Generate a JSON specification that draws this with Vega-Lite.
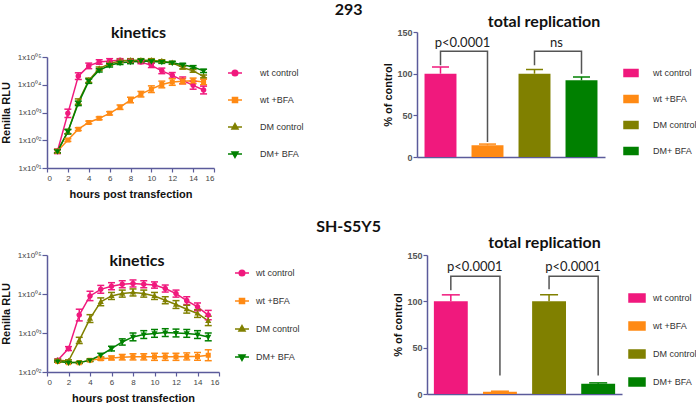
{
  "$schema": "https://vega.github.io/schema/vega-lite/v6.json",
  "padding": {"left": 0, "top": 2, "right": 0, "bottom": 0},
  "background": "white",
  "config": {
    "view": {"stroke": null},
    "font": "Liberation Sans",
    "axis": {"domainColor": "#5b5b9b", "domainWidth": 1.5, "tickColor": "#5b5b9b", "tickWidth": 1.2, "tickSize": 4, "labelFont": "Liberation Sans", "labelFontSize": 8, "labelColor": "#444444", "titleFont": "Liberation Sans", "titleFontSize": 11, "titleFontWeight": "bold", "titleColor": "#111111", "grid": false},
    "legend": {"labelFont": "Liberation Sans", "labelFontSize": 9, "labelColor": "#333333"},
    "title": {"font": "Lato", "fontSize": 16, "fontWeight": "bold", "color": "#111111"}
  },
  "datasets": {
    "kin293": [
      {"t":1,"series":"wt control","v":40,"lo":33,"hi":48},
      {"t":2,"series":"wt control","v":933,"lo":660,"hi":1318},
      {"t":3,"series":"wt control","v":20417,"lo":15490,"hi":26910},
      {"t":4,"series":"wt control","v":47863,"lo":38020,"hi":60260},
      {"t":5,"series":"wt control","v":66069,"lo":54960,"hi":79430},
      {"t":6,"series":"wt control","v":72444,"lo":60260,"hi":87100},
      {"t":7,"series":"wt control","v":75858,"lo":66070,"hi":87100},
      {"t":8,"series":"wt control","v":72444,"lo":63100,"hi":83180},
      {"t":9,"series":"wt control","v":66069,"lo":57540,"hi":75860},
      {"t":10,"series":"wt control","v":50119,"lo":41690,"hi":60260},
      {"t":11,"series":"wt control","v":31623,"lo":25120,"hi":39810},
      {"t":12,"series":"wt control","v":21878,"lo":17380,"hi":27540},
      {"t":13,"series":"wt control","v":14454,"lo":10960,"hi":19050},
      {"t":14,"series":"wt control","v":9550,"lo":6920,"hi":13180},
      {"t":15,"series":"wt control","v":6457,"lo":4680,"hi":8910},
      {"t":1,"series":"wt +BFA","v":40,"lo":35,"hi":46},
      {"t":2,"series":"wt +BFA","v":102,"lo":91,"hi":114},
      {"t":3,"series":"wt +BFA","v":251,"lo":224,"hi":282},
      {"t":4,"series":"wt +BFA","v":437,"lo":390,"hi":490},
      {"t":5,"series":"wt +BFA","v":617,"lo":550,"hi":692},
      {"t":6,"series":"wt +BFA","v":933,"lo":813,"hi":1071},
      {"t":7,"series":"wt +BFA","v":1549,"lo":1289,"hi":1862},
      {"t":8,"series":"wt +BFA","v":2818,"lo":2239,"hi":3548},
      {"t":9,"series":"wt +BFA","v":4571,"lo":3631,"hi":5754},
      {"t":10,"series":"wt +BFA","v":6918,"lo":5248,"hi":9120},
      {"t":11,"series":"wt +BFA","v":10233,"lo":7762,"hi":13490},
      {"t":12,"series":"wt +BFA","v":12589,"lo":9550,"hi":16600},
      {"t":13,"series":"wt +BFA","v":13490,"lo":10720,"hi":16980},
      {"t":14,"series":"wt +BFA","v":13804,"lo":10960,"hi":17380},
      {"t":15,"series":"wt +BFA","v":12589,"lo":10000,"hi":15850},
      {"t":1,"series":"DM control","v":40,"lo":35,"hi":46},
      {"t":2,"series":"DM control","v":204,"lo":170,"hi":245},
      {"t":3,"series":"DM control","v":2455,"lo":1950,"hi":3090},
      {"t":4,"series":"DM control","v":14454,"lo":12020,"hi":17380},
      {"t":5,"series":"DM control","v":38019,"lo":33110,"hi":43650},
      {"t":6,"series":"DM control","v":57544,"lo":50120,"hi":66070},
      {"t":7,"series":"DM control","v":72444,"lo":63100,"hi":83180},
      {"t":8,"series":"DM control","v":75858,"lo":66070,"hi":87100},
      {"t":9,"series":"DM control","v":75858,"lo":66070,"hi":87100},
      {"t":10,"series":"DM control","v":75858,"lo":66070,"hi":87100},
      {"t":11,"series":"DM control","v":70795,"lo":63100,"hi":79430},
      {"t":12,"series":"DM control","v":61660,"lo":54950,"hi":69180},
      {"t":13,"series":"DM control","v":41687,"lo":37150,"hi":46770},
      {"t":14,"series":"DM control","v":31623,"lo":28180,"hi":35480},
      {"t":15,"series":"DM control","v":19953,"lo":17780,"hi":22390},
      {"t":1,"series":"DM+ BFA","v":40,"lo":35,"hi":46},
      {"t":2,"series":"DM+ BFA","v":204,"lo":170,"hi":245},
      {"t":3,"series":"DM+ BFA","v":2138,"lo":1778,"hi":2570},
      {"t":4,"series":"DM+ BFA","v":13490,"lo":11220,"hi":16220},
      {"t":5,"series":"DM+ BFA","v":33113,"lo":28840,"hi":38020},
      {"t":6,"series":"DM+ BFA","v":50119,"lo":43650,"hi":57540},
      {"t":7,"series":"DM+ BFA","v":61660,"lo":53700,"hi":70790},
      {"t":8,"series":"DM+ BFA","v":66069,"lo":57540,"hi":75860},
      {"t":9,"series":"DM+ BFA","v":72444,"lo":63100,"hi":83180},
      {"t":10,"series":"DM+ BFA","v":69183,"lo":60260,"hi":79430},
      {"t":11,"series":"DM+ BFA","v":66069,"lo":58880,"hi":74130},
      {"t":12,"series":"DM+ BFA","v":61660,"lo":54950,"hi":69180},
      {"t":13,"series":"DM+ BFA","v":52481,"lo":46770,"hi":58880},
      {"t":14,"series":"DM+ BFA","v":43652,"lo":38900,"hi":48980},
      {"t":15,"series":"DM+ BFA","v":31623,"lo":27540,"hi":36310}
    ],
    "kinSH": [
      {"t":1,"series":"wt control","v":200,"lo":187,"hi":214},
      {"t":2,"series":"wt control","v":398,"lo":355,"hi":447},
      {"t":3,"series":"wt control","v":2884,"lo":2042,"hi":4074},
      {"t":4,"series":"wt control","v":8913,"lo":6761,"hi":11750},
      {"t":5,"series":"wt control","v":13183,"lo":10470,"hi":16600},
      {"t":6,"series":"wt control","v":15849,"lo":12880,"hi":19500},
      {"t":7,"series":"wt control","v":17783,"lo":14450,"hi":21880},
      {"t":8,"series":"wt control","v":18621,"lo":15140,"hi":22910},
      {"t":9,"series":"wt control","v":17783,"lo":14450,"hi":21880},
      {"t":10,"series":"wt control","v":16982,"lo":14130,"hi":20420},
      {"t":11,"series":"wt control","v":13804,"lo":11220,"hi":16980},
      {"t":12,"series":"wt control","v":10233,"lo":8318,"hi":12590},
      {"t":13,"series":"wt control","v":6761,"lo":5370,"hi":8511},
      {"t":14,"series":"wt control","v":4677,"lo":3715,"hi":5888},
      {"t":15,"series":"wt control","v":2884,"lo":2188,"hi":3802},
      {"t":1,"series":"wt +BFA","v":186,"lo":178,"hi":195},
      {"t":2,"series":"wt +BFA","v":174,"lo":166,"hi":182},
      {"t":3,"series":"wt +BFA","v":174,"lo":166,"hi":182},
      {"t":4,"series":"wt +BFA","v":200,"lo":187,"hi":214},
      {"t":5,"series":"wt +BFA","v":219,"lo":200,"hi":240},
      {"t":6,"series":"wt +BFA","v":229,"lo":204,"hi":257},
      {"t":7,"series":"wt +BFA","v":240,"lo":204,"hi":282},
      {"t":8,"series":"wt +BFA","v":245,"lo":204,"hi":294},
      {"t":9,"series":"wt +BFA","v":245,"lo":204,"hi":294},
      {"t":10,"series":"wt +BFA","v":245,"lo":199,"hi":302},
      {"t":11,"series":"wt +BFA","v":245,"lo":199,"hi":302},
      {"t":12,"series":"wt +BFA","v":245,"lo":199,"hi":302},
      {"t":13,"series":"wt +BFA","v":251,"lo":204,"hi":309},
      {"t":14,"series":"wt +BFA","v":251,"lo":200,"hi":316},
      {"t":15,"series":"wt +BFA","v":269,"lo":195,"hi":371},
      {"t":1,"series":"DM control","v":200,"lo":187,"hi":214},
      {"t":2,"series":"DM control","v":191,"lo":178,"hi":205},
      {"t":3,"series":"DM control","v":646,"lo":537,"hi":776},
      {"t":4,"series":"DM control","v":2344,"lo":1862,"hi":2951},
      {"t":5,"series":"DM control","v":6310,"lo":5012,"hi":7943},
      {"t":6,"series":"DM control","v":8913,"lo":7244,"hi":10960},
      {"t":7,"series":"DM control","v":10233,"lo":8318,"hi":12590},
      {"t":8,"series":"DM control","v":10965,"lo":8913,"hi":13490},
      {"t":9,"series":"DM control","v":10233,"lo":8318,"hi":12590},
      {"t":10,"series":"DM control","v":8913,"lo":7244,"hi":10960},
      {"t":11,"series":"DM control","v":6918,"lo":5623,"hi":8511},
      {"t":12,"series":"DM control","v":5370,"lo":4266,"hi":6761},
      {"t":13,"series":"DM control","v":4074,"lo":3236,"hi":5129},
      {"t":14,"series":"DM control","v":3162,"lo":2512,"hi":3981},
      {"t":15,"series":"DM control","v":2042,"lo":1549,"hi":2692},
      {"t":1,"series":"DM+ BFA","v":186,"lo":178,"hi":195},
      {"t":2,"series":"DM+ BFA","v":174,"lo":166,"hi":182},
      {"t":3,"series":"DM+ BFA","v":174,"lo":166,"hi":182},
      {"t":4,"series":"DM+ BFA","v":200,"lo":187,"hi":214},
      {"t":5,"series":"DM+ BFA","v":269,"lo":240,"hi":302},
      {"t":6,"series":"DM+ BFA","v":398,"lo":347,"hi":457},
      {"t":7,"series":"DM+ BFA","v":589,"lo":490,"hi":708},
      {"t":8,"series":"DM+ BFA","v":794,"lo":631,"hi":1000},
      {"t":9,"series":"DM+ BFA","v":912,"lo":724,"hi":1148},
      {"t":10,"series":"DM+ BFA","v":977,"lo":776,"hi":1230},
      {"t":11,"series":"DM+ BFA","v":1023,"lo":813,"hi":1288},
      {"t":12,"series":"DM+ BFA","v":1000,"lo":794,"hi":1259},
      {"t":13,"series":"DM+ BFA","v":977,"lo":776,"hi":1230},
      {"t":14,"series":"DM+ BFA","v":912,"lo":724,"hi":1148},
      {"t":15,"series":"DM+ BFA","v":794,"lo":631,"hi":1000}
    ],
    "bar293": [
      {"cond":"wt control","v":100,"hi":108},
      {"cond":"wt +BFA","v":14,"hi":15.5},
      {"cond":"DM control","v":100,"hi":105},
      {"cond":"DM+ BFA","v":92,"hi":96}
    ],
    "barSH": [
      {"cond":"wt control","v":100,"hi":107},
      {"cond":"wt +BFA","v":2.5,"hi":3},
      {"cond":"DM control","v":100,"hi":107},
      {"cond":"DM+ BFA","v":11,"hi":12}
    ],
    "br293": [
      {"grp":"a","ord":1,"cond":"wt control","y":110},
      {"grp":"a","ord":2,"cond":"wt control","y":127},
      {"grp":"a","ord":3,"cond":"wt +BFA","y":127},
      {"grp":"a","ord":4,"cond":"wt +BFA","y":18},
      {"grp":"b","ord":1,"cond":"DM control","y":110},
      {"grp":"b","ord":2,"cond":"DM control","y":127},
      {"grp":"b","ord":3,"cond":"DM+ BFA","y":127},
      {"grp":"b","ord":4,"cond":"DM+ BFA","y":100}
    ],
    "brSH": [
      {"grp":"a","ord":1,"cond":"wt control","y":112},
      {"grp":"a","ord":2,"cond":"wt control","y":127},
      {"grp":"a","ord":3,"cond":"wt +BFA","y":127},
      {"grp":"a","ord":4,"cond":"wt +BFA","y":20},
      {"grp":"b","ord":1,"cond":"DM control","y":113},
      {"grp":"b","ord":2,"cond":"DM control","y":127},
      {"grp":"b","ord":3,"cond":"DM+ BFA","y":127},
      {"grp":"b","ord":4,"cond":"DM+ BFA","y":20}
    ],
    "lab293": [
      {"cond":"wt control","label":"p<0.0001","y":129},
      {"cond":"DM control","label":"ns","y":129}
    ],
    "labSH": [
      {"cond":"wt control","label":"p<0.0001","y":129},
      {"cond":"DM control","label":"p<0.0001","y":129}
    ]
  },
  "spacing": 20,
  "resolve": {"scale": {"color": "independent", "shape": "independent", "stroke": "independent"}, "legend": {"color": "independent", "shape": "independent", "stroke": "independent"}},
  "vconcat": [
    {
      "title": {"text": "293", "anchor": "middle", "offset": -4},
      "bounds": "flush",
      "spacing": 203,
      "resolve": {"scale": {"color": "independent", "shape": "independent", "stroke": "independent"}, "legend": {"color": "independent", "shape": "independent", "stroke": "independent"}},
      "hconcat": [
        {
          "width": 167, "height": 136,
          "data": {"name": "kin293"},
          "title": {"text": "kinetics", "frame": "group", "anchor": "middle", "dx": 8, "offset": -9},
          "encoding": {
            "x": {"field": "t", "type": "quantitative", "scale": {"domain": [0, 16], "nice": false}, "axis": {"values": [0,2,4,6,8,10,12,14,16], "title": "hours post transfection", "titlePadding": 6, "labelPadding": 2}},
            "color": {"field": "series", "type": "nominal", "scale": {"domain": ["wt control","wt +BFA","DM control","DM+ BFA"], "range": ["#F0197D","#FF8A14","#808000","#008000"]},
              "legend": {"orient": "none", "legendX": 180, "legendY": 33, "title": null, "symbolSize": 196, "symbolStrokeWidth": 1.5, "symbolOpacity": 1, "rowPadding": 13, "labelOffset": 17, "padding": 0, "encode": {"symbols": {"update": {"strokeWidth": {"value": 1.5}}}}}}
          },
          "layer": [
            {"mark": {"type": "line", "strokeWidth": 1.5},
             "encoding": {"y": {"field": "v", "type": "quantitative", "scale": {"type": "log", "domain": [10, 100000], "range": [136, 25], "nice": false},
               "axis": {"values": [10,100,1000,10000,100000], "labelExpr": "datum.value == 10 ? '1x10⁰¹' : datum.value == 100 ? '1x10⁰²' : datum.value == 1000 ? '1x10⁰³' : datum.value == 10000 ? '1x10⁰⁴' : '1x10⁰⁵'", "title": "Renilla RLU", "titlePadding": 6, "labelPadding": 1, "tickSize": 5}}}},
            {"mark": {"type": "rule", "strokeWidth": 1.5}, "encoding": {"y": {"field": "lo", "type": "quantitative"}, "y2": {"field": "hi"}}},
            {"mark": {"type": "tick", "orient": "horizontal", "size": 7, "thickness": 1.5, "opacity": 1}, "encoding": {"y": {"field": "lo", "type": "quantitative"}}},
            {"mark": {"type": "tick", "orient": "horizontal", "size": 7, "thickness": 1.5, "opacity": 1}, "encoding": {"y": {"field": "hi", "type": "quantitative"}}},
            {"mark": {"type": "point", "filled": true, "size": 196, "opacity": 1, "strokeWidth": 0},
             "encoding": {
               "y": {"field": "v", "type": "quantitative"},
               "shape": {"field": "series", "type": "nominal", "scale": {"domain": ["wt control","wt +BFA","DM control","DM+ BFA"], "range": ["M-1,0H1M0.4,0A0.4,0.4,0,1,1,-0.4,0A0.4,0.4,0,1,1,0.4,0Z","M-1,0H1M-0.36,-0.36H0.36V0.36H-0.36Z","M-1,0H1M0,-0.48L0.44,0.3H-0.44Z","M-1,0H1M0,0.48L0.44,-0.3H-0.44Z"]},
                 "legend": {"orient": "none", "legendX": 180, "legendY": 33, "title": null, "symbolSize": 196, "symbolStrokeWidth": 1.5, "symbolOpacity": 1, "rowPadding": 13, "labelOffset": 17, "padding": 0, "encode": {"symbols": {"update": {"strokeWidth": {"value": 1.5}}}}}},
               "stroke": {"field": "series", "type": "nominal", "scale": {"domain": ["wt control","wt +BFA","DM control","DM+ BFA"], "range": ["#F0197D","#FF8A14","#808000","#008000"]},
                 "legend": {"orient": "none", "legendX": 180, "legendY": 33, "title": null, "symbolSize": 196, "symbolStrokeWidth": 1.5, "symbolOpacity": 1, "rowPadding": 13, "labelOffset": 17, "padding": 0, "encode": {"symbols": {"update": {"strokeWidth": {"value": 1.5}}}}}}
             }}
          ]
        },
        {
          "width": 188, "height": 125,
          "title": {"text": "total replication", "frame": "group", "anchor": "middle", "dx": 33, "offset": -2},
          "encoding": {
            "x": {"field": "cond", "type": "nominal", "scale": {"domain": ["wt control","wt +BFA","DM control","DM+ BFA"], "paddingInner": 0.32, "paddingOuter": 0.16}, "axis": {"labels": false, "ticks": false, "title": null}}
          },
          "layer": [
            {"data": {"name": "bar293"}, "mark": {"type": "bar"},
             "encoding": {
               "y": {"field": "v", "type": "quantitative", "scale": {"domain": [0, 150], "nice": false}, "axis": {"values": [0,50,100,150], "title": "% of control", "labelFontSize": 9, "labelFontWeight": "bold", "labelColor": "#555555", "titlePadding": 3, "labelPadding": 1}},
               "color": {"field": "cond", "type": "nominal", "scale": {"domain": ["wt control","wt +BFA","DM control","DM+ BFA"], "range": ["#F0197D","#FF8A14","#808000","#008000"]},
                 "legend": {"orient": "none", "legendX": 206, "legendY": 33, "title": null, "symbolType": "M-1,-0.5H1V0.5H-1Z", "symbolSize": 196, "rowPadding": 11, "labelOffset": 14, "padding": 0, "symbolOpacity": 1}}
             }},
            {"data": {"name": "bar293"}, "mark": {"type": "rule", "strokeWidth": 1.5},
             "encoding": {"y": {"field": "v", "type": "quantitative"}, "y2": {"field": "hi"},
               "color": {"field": "cond", "type": "nominal", "scale": {"domain": ["wt control","wt +BFA","DM control","DM+ BFA"], "range": ["#F0197D","#FF8A14","#808000","#008000"]},
                 "legend": {"orient": "none", "legendX": 206, "legendY": 33, "title": null, "symbolType": "M-1,-0.5H1V0.5H-1Z", "symbolSize": 196, "rowPadding": 11, "labelOffset": 14, "padding": 0, "symbolOpacity": 1}}}},
            {"data": {"name": "bar293"}, "mark": {"type": "tick", "orient": "horizontal", "size": 17, "thickness": 1.5, "opacity": 1},
             "encoding": {"y": {"field": "hi", "type": "quantitative"},
               "color": {"field": "cond", "type": "nominal", "scale": {"domain": ["wt control","wt +BFA","DM control","DM+ BFA"], "range": ["#F0197D","#FF8A14","#808000","#008000"]},
                 "legend": {"orient": "none", "legendX": 206, "legendY": 33, "title": null, "symbolType": "M-1,-0.5H1V0.5H-1Z", "symbolSize": 196, "rowPadding": 11, "labelOffset": 14, "padding": 0, "symbolOpacity": 1}}}},
            {"data": {"name": "br293"}, "mark": {"type": "line", "color": "#555555", "strokeWidth": 1.5},
             "encoding": {"y": {"field": "y", "type": "quantitative"}, "order": {"field": "ord", "type": "quantitative"}, "detail": {"field": "grp"}}},
            {"data": {"name": "lab293"}, "mark": {"type": "text", "font": "Lato", "fontSize": 13, "baseline": "bottom", "dx": 6, "color": "#222222"},
             "encoding": {"x": {"field": "cond", "type": "nominal", "bandPosition": 1}, "y": {"field": "y", "type": "quantitative"}, "text": {"field": "label"}}}
          ]
        }
      ]
    },
    {
      "title": {"text": "SH-S5Y5", "anchor": "middle", "offset": 0},
      "bounds": "flush",
      "spacing": 208,
      "resolve": {"scale": {"color": "independent", "shape": "independent", "stroke": "independent"}, "legend": {"color": "independent", "shape": "independent", "stroke": "independent"}},
      "hconcat": [
        {
          "width": 172, "height": 117,
          "data": {"name": "kinSH"},
          "title": {"text": "kinetics", "frame": "group", "anchor": "middle", "dx": 4, "offset": -18},
          "encoding": {
            "x": {"field": "t", "type": "quantitative", "scale": {"domain": [0, 16], "nice": false}, "axis": {"values": [0,2,4,6,8,10,12,14,16], "title": "hours post transfection", "titlePadding": 6, "labelPadding": 2}},
            "color": {"field": "series", "type": "nominal", "scale": {"domain": ["wt control","wt +BFA","DM control","DM+ BFA"], "range": ["#F0197D","#FF8A14","#808000","#008000"]},
              "legend": {"orient": "none", "legendX": 187, "legendY": 10, "title": null, "symbolSize": 196, "symbolStrokeWidth": 1.5, "symbolOpacity": 1, "rowPadding": 14, "labelOffset": 6, "padding": 0, "encode": {"symbols": {"update": {"strokeWidth": {"value": 1.5}}}}}}
          },
          "layer": [
            {"mark": {"type": "line", "strokeWidth": 1.5},
             "encoding": {"y": {"field": "v", "type": "quantitative", "scale": {"type": "log", "domain": [100, 100000], "nice": false},
               "axis": {"values": [100,1000,10000,100000], "labelExpr": "datum.value == 100 ? '1x10⁰²' : datum.value == 1000 ? '1x10⁰³' : datum.value == 10000 ? '1x10⁰⁴' : '1x10⁰⁵'", "title": "Renilla RLU", "titlePadding": 6, "labelPadding": 1, "tickSize": 5}}}},
            {"mark": {"type": "rule", "strokeWidth": 1.5}, "encoding": {"y": {"field": "lo", "type": "quantitative"}, "y2": {"field": "hi"}}},
            {"mark": {"type": "tick", "orient": "horizontal", "size": 7, "thickness": 1.5, "opacity": 1}, "encoding": {"y": {"field": "lo", "type": "quantitative"}}},
            {"mark": {"type": "tick", "orient": "horizontal", "size": 7, "thickness": 1.5, "opacity": 1}, "encoding": {"y": {"field": "hi", "type": "quantitative"}}},
            {"mark": {"type": "point", "filled": true, "size": 196, "opacity": 1, "strokeWidth": 0},
             "encoding": {
               "y": {"field": "v", "type": "quantitative"},
               "shape": {"field": "series", "type": "nominal", "scale": {"domain": ["wt control","wt +BFA","DM control","DM+ BFA"], "range": ["M-1,0H1M0.4,0A0.4,0.4,0,1,1,-0.4,0A0.4,0.4,0,1,1,0.4,0Z","M-1,0H1M-0.36,-0.36H0.36V0.36H-0.36Z","M-1,0H1M0,-0.48L0.44,0.3H-0.44Z","M-1,0H1M0,0.48L0.44,-0.3H-0.44Z"]},
                 "legend": {"orient": "none", "legendX": 187, "legendY": 10, "title": null, "symbolSize": 196, "symbolStrokeWidth": 1.5, "symbolOpacity": 1, "rowPadding": 14, "labelOffset": 6, "padding": 0, "encode": {"symbols": {"update": {"strokeWidth": {"value": 1.5}}}}}},
               "stroke": {"field": "series", "type": "nominal", "scale": {"domain": ["wt control","wt +BFA","DM control","DM+ BFA"], "range": ["#F0197D","#FF8A14","#808000","#008000"]},
                 "legend": {"orient": "none", "legendX": 187, "legendY": 10, "title": null, "symbolSize": 196, "symbolStrokeWidth": 1.5, "symbolOpacity": 1, "rowPadding": 14, "labelOffset": 6, "padding": 0, "encode": {"symbols": {"update": {"strokeWidth": {"value": 1.5}}}}}}
             }}
          ]
        },
        {
          "width": 195, "height": 139,
          "title": {"text": "total replication", "frame": "group", "anchor": "middle", "dx": 20, "offset": 0},
          "encoding": {
            "x": {"field": "cond", "type": "nominal", "scale": {"domain": ["wt control","wt +BFA","DM control","DM+ BFA"], "paddingInner": 0.31, "paddingOuter": 0.14}, "axis": {"labels": false, "ticks": false, "title": null}}
          },
          "layer": [
            {"data": {"name": "barSH"}, "mark": {"type": "bar"},
             "encoding": {
               "y": {"field": "v", "type": "quantitative", "scale": {"domain": [0, 150], "nice": false}, "axis": {"values": [0,50,100,150], "title": "% of control", "labelFontSize": 9, "labelFontWeight": "bold", "labelColor": "#555555", "titlePadding": 3, "labelPadding": 1}},
               "color": {"field": "cond", "type": "nominal", "scale": {"domain": ["wt control","wt +BFA","DM control","DM+ BFA"], "range": ["#F0197D","#FF8A14","#808000","#008000"]},
                 "legend": {"orient": "none", "legendX": 201, "legendY": 34, "title": null, "symbolType": "M-1,-0.5H1V0.5H-1Z", "symbolSize": 256, "rowPadding": 12, "labelOffset": 7, "padding": 0, "symbolOpacity": 1}}
             }},
            {"data": {"name": "barSH"}, "mark": {"type": "rule", "strokeWidth": 1.5},
             "encoding": {"y": {"field": "v", "type": "quantitative"}, "y2": {"field": "hi"},
               "color": {"field": "cond", "type": "nominal", "scale": {"domain": ["wt control","wt +BFA","DM control","DM+ BFA"], "range": ["#F0197D","#FF8A14","#808000","#008000"]},
                 "legend": {"orient": "none", "legendX": 201, "legendY": 34, "title": null, "symbolType": "M-1,-0.5H1V0.5H-1Z", "symbolSize": 256, "rowPadding": 12, "labelOffset": 7, "padding": 0, "symbolOpacity": 1}}}},
            {"data": {"name": "barSH"}, "mark": {"type": "tick", "orient": "horizontal", "size": 18, "thickness": 1.5, "opacity": 1},
             "encoding": {"y": {"field": "hi", "type": "quantitative"},
               "color": {"field": "cond", "type": "nominal", "scale": {"domain": ["wt control","wt +BFA","DM control","DM+ BFA"], "range": ["#F0197D","#FF8A14","#808000","#008000"]},
                 "legend": {"orient": "none", "legendX": 201, "legendY": 34, "title": null, "symbolType": "M-1,-0.5H1V0.5H-1Z", "symbolSize": 256, "rowPadding": 12, "labelOffset": 7, "padding": 0, "symbolOpacity": 1}}}},
            {"data": {"name": "brSH"}, "mark": {"type": "line", "color": "#555555", "strokeWidth": 1.5},
             "encoding": {"y": {"field": "y", "type": "quantitative"}, "order": {"field": "ord", "type": "quantitative"}, "detail": {"field": "grp"}}},
            {"data": {"name": "labSH"}, "mark": {"type": "text", "font": "Lato", "fontSize": 13, "baseline": "bottom", "dx": 7, "color": "#222222"},
             "encoding": {"x": {"field": "cond", "type": "nominal", "bandPosition": 1}, "y": {"field": "y", "type": "quantitative"}, "text": {"field": "label"}}}
          ]
        }
      ]
    }
  ]
}
